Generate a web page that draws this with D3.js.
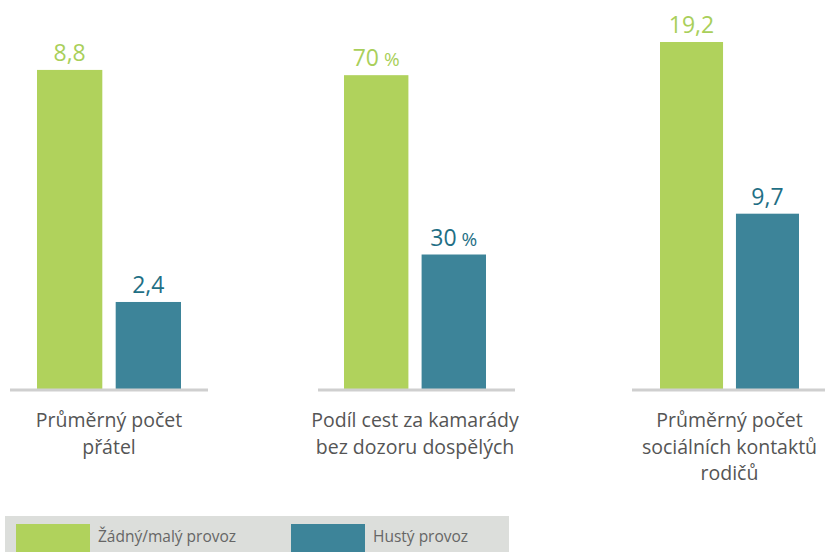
<!DOCTYPE html>
<html>
<head>
<meta charset="utf-8">
<script src="https://cdn.jsdelivr.net/npm/d3@7"></script>
<style>
  body { margin: 0; background: #fff; }
  svg { display: block; font-family: "Open Sans", sans-serif; }
</style>
</head>
<body>
<div id="container"></div>
<script>
const width = 825;
const height = 552;

// Data
const categories = [
  ["Průměrný počet", "přátel"],
  ["Podíl cest za kamarády", "bez dozoru dospělých"],
  ["Průměrný počet", "sociálních kontaktů", "rodičů"],
];
const seriesNames = ["Žádný/malý provoz", "Hustý provoz"];
const lowTraffic = [8.8, 70, 19.2];
const heavyTraffic = [2.4, 30, 9.7];
const valueSuffix = ["", " %", ""];
// each panel has its own scale
const axisMax = [9.57, 77.4, 19.2];

const colours = ["#b0d25c", "#3d8499"];
const labelColours = ["#a9cf5a", "#1f6f85"];

const svg = d3
  .select("#container")
  .append("svg")
  .attr("width", width)
  .attr("height", height);

// panel layout: baseline extents and bar area
const panels = [
  { x0: 10, x1: 208, b0: 37, b1: 181 },
  { x0: 318, x1: 515, b0: 344, b1: 486 },
  { x0: 632, x1: 825, b0: 660, b1: 799 },
];
const baseY = 389;
const topY = 42;

const fmt = (v) => String(v).replace(".", ",");

panels.forEach((p, i) => {
  const g = svg.append("g");

  const xScale = d3
    .scaleBand()
    .domain(seriesNames)
    .range([p.b0, p.b1])
    .paddingInner(0.17);

  const yScale = d3.scaleLinear().domain([0, axisMax[i]]).range([baseY, topY]);

  const vals = [lowTraffic[i], heavyTraffic[i]];

  g.selectAll("rect")
    .data(vals)
    .enter()
    .append("rect")
    .attr("x", (d, j) => xScale(seriesNames[j]))
    .attr("y", (d) => yScale(d))
    .attr("width", xScale.bandwidth())
    .attr("height", (d) => yScale(0) - yScale(d))
    .style("fill", (d, j) => colours[j]);

  // value labels
  g.selectAll(".val")
    .data(vals)
    .enter()
    .append("text")
    .attr("class", "val")
    .attr("x", (d, j) => xScale(seriesNames[j]) + xScale.bandwidth() / 2)
    .attr("y", (d) => yScale(d) - 9)
    .attr("text-anchor", "middle")
    .style("fill", (d, j) => labelColours[j])
    .style("font-size", "23px")
    .each(function (d) {
      const t = d3.select(this);
      t.append("tspan").text(fmt(d));
      if (valueSuffix[i]) t.append("tspan").style("font-size", "19px").text(valueSuffix[i]);
    });

  // baseline
  g.append("line")
    .attr("x1", p.x0)
    .attr("x2", p.x1)
    .attr("y1", baseY + 1)
    .attr("y2", baseY + 1)
    .style("stroke", "#cfcfcf")
    .style("stroke-width", 3);

  // category label
  const cx = (p.b0 + p.b1) / 2;
  const label = g
    .append("text")
    .attr("text-anchor", "middle")
    .style("fill", "#555")
    .style("font-size", "19.5px");
  categories[i].forEach((line, k) => {
    label
      .append("tspan")
      .attr("x", cx)
      .attr("y", 427 + k * 26.5)
      .text(line);
  });
});

// legend
const legend = svg.append("g");
legend
  .append("rect")
  .attr("x", 5)
  .attr("y", 516)
  .attr("width", 504)
  .attr("height", 40)
  .style("fill", "#dcdedb");

const legendX = [16, 291];
seriesNames.forEach((name, j) => {
  legend
    .append("rect")
    .attr("x", legendX[j])
    .attr("y", 524)
    .attr("width", 74)
    .attr("height", 28)
    .style("fill", colours[j]);
  legend
    .append("text")
    .attr("x", legendX[j] + 82)
    .attr("y", 542)
    .style("fill", "#666")
    .style("font-size", "15.5px")
    .text(name);
});
</script>
</body>
</html>
